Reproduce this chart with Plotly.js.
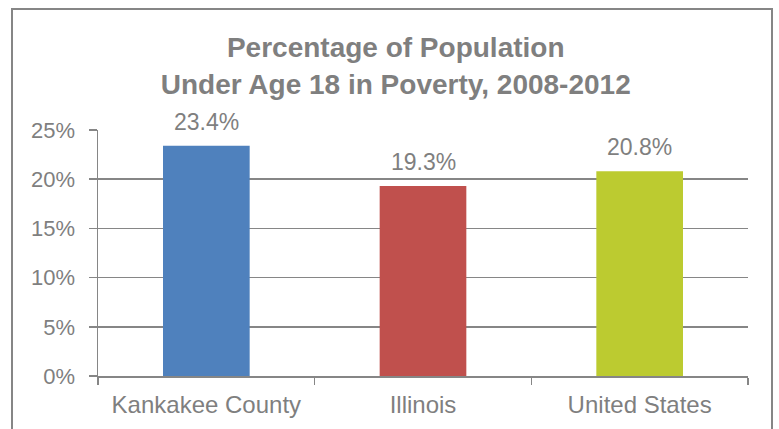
<!DOCTYPE html>
<html>
<head>
<meta charset="utf-8">
<script src="https://cdn.plot.ly/plotly-3.0.1.min.js"></script>
<style>
  html, body { margin: 0; padding: 0; background: #ffffff; overflow: hidden; }
  #frame { position: absolute; left: 11px; top: 8px; width: 758px; height: 440px; border: 2px solid #868686; pointer-events: none; z-index: 5; }
  #chart { position: absolute; left: 0; top: 0; width: 779px; height: 429px; }
</style>
</head>
<body>
<div id="chart"></div>
<div id="frame"></div>
<script>
const categories = ["Kankakee County", "Illinois", "United States"];
const values = [23.4, 19.3, 20.8];
const barColors = ["#4F81BD", "#C0504D", "#BCCB30"];
const yTickVals = [0, 5, 10, 15, 20, 25];
const yTickText = ["0%", "5%", "10%", "15%", "20%", "25%"];

const gray = "#7f7f7f";
const lineGray = "#868686";
const fontFam = "Liberation Sans, Arial, sans-serif";

const trace = {
  type: "bar",
  x: categories,
  y: values,
  marker: { color: barColors, line: { width: 0 } },
  hoverinfo: "none"
};

const labelAnnotations = categories.map((c, i) => ({
  x: c,
  y: values[i],
  xref: "x",
  yref: "y",
  text: values[i].toFixed(1) + "%",
  showarrow: false,
  xanchor: "center",
  yanchor: "bottom",
  yshift: 9,
  font: { family: fontFam, size: 23, color: gray }
}));

const layout = {
  width: 779,
  height: 429,
  margin: { l: 98, r: 31, t: 130, b: 53 },
  paper_bgcolor: "#ffffff",
  plot_bgcolor: "#ffffff",
  bargap: 0.6,
  showlegend: false,
  annotations: labelAnnotations,
  title: {
    text: "<b>Percentage of Population<br>Under Age 18 in Poverty, 2008-2012</b>",
    font: { family: fontFam, size: 28, color: gray },
    x: 0.508,
    xanchor: "center",
    xref: "container",
    y: 0.866,
    yanchor: "middle",
    yref: "container"
  },
  xaxis: {
    type: "category",
    showline: true,
    linecolor: lineGray,
    linewidth: 1.5,
    ticks: "outside",
    tickson: "boundaries",
    ticklen: 7,
    tickcolor: lineGray,
    tickwidth: 1.5,
    showgrid: false,
    tickfont: { family: fontFam, size: 24, color: gray },
    ticklabelstandoff: 7,
    fixedrange: true
  },
  yaxis: {
    range: [0, 25],
    tickvals: yTickVals,
    ticktext: yTickText,
    showline: true,
    linecolor: lineGray,
    linewidth: 1.5,
    showgrid: true,
    gridcolor: lineGray,
    gridwidth: 1.5,
    zeroline: false,
    ticks: "outside",
    ticklen: 8,
    tickcolor: lineGray,
    tickwidth: 1.5,
    tickfont: { family: fontFam, size: 22, color: gray },
    ticklabelstandoff: 9,
    fixedrange: true
  }
};

Plotly.newPlot("chart", [trace], layout, { displayModeBar: false, staticPlot: true });
</script>
</body>
</html>
